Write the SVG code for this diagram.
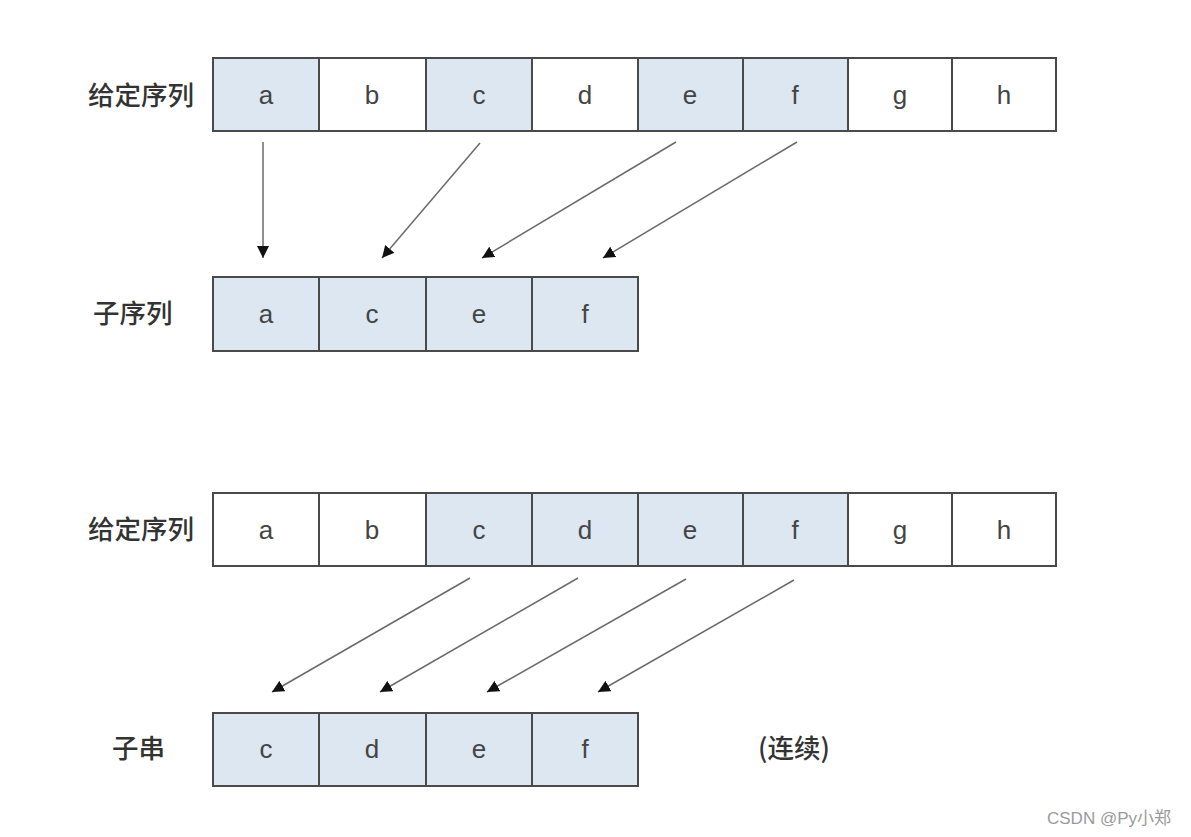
<svg xmlns="http://www.w3.org/2000/svg" width="1191" height="837" viewBox="0 0 1191 837">
<style>
.cell{stroke:#4a4a4a;stroke-width:2}
.hi{fill:#dce7f2}
.lo{fill:#ffffff}
.ch{font-family:"Liberation Sans",Arial,sans-serif;font-size:26px;fill:#444;text-anchor:middle}
.lb{font-family:"Noto Sans CJK SC","Noto Sans",sans-serif;font-size:26.5px;fill:#333;font-weight:500}
.ar{stroke:#6a6a6a;stroke-width:1.5;fill:none;marker-end:url(#ah)}
.wm{font-family:"Liberation Sans","Noto Sans CJK SC",sans-serif;font-size:17px;fill:#9a9a9a}
</style>
<defs>
<marker id="ah" viewBox="0 0 10 10" refX="10" refY="5" markerWidth="12" markerHeight="12" markerUnits="userSpaceOnUse" orient="auto">
<path d="M0,0 L10,5 L0,10 z" fill="#111"/>
</marker>
</defs>
<rect width="1191" height="837" fill="#ffffff"/>

<g id="row1">
<text class="lb" x="88" y="105">给定序列</text>
<rect class="cell hi" x="213" y="58" width="106" height="73"/>
<rect class="cell lo" x="319" y="58" width="107" height="73"/>
<rect class="cell hi" x="426" y="58" width="106" height="73"/>
<rect class="cell lo" x="532" y="58" width="106" height="73"/>
<rect class="cell hi" x="638" y="58" width="105" height="73"/>
<rect class="cell hi" x="743" y="58" width="105" height="73"/>
<rect class="cell lo" x="848" y="58" width="104" height="73"/>
<rect class="cell lo" x="952" y="58" width="104" height="73"/>
<text class="ch" x="266" y="104">a</text>
<text class="ch" x="372" y="104">b</text>
<text class="ch" x="479" y="104">c</text>
<text class="ch" x="585" y="104">d</text>
<text class="ch" x="690" y="104">e</text>
<text class="ch" x="795" y="104">f</text>
<text class="ch" x="900" y="104">g</text>
<text class="ch" x="1004" y="104">h</text>
</g>

<g id="row2">
<text class="lb" x="93" y="323">子序列</text>
<rect class="cell hi" x="213" y="277" width="106" height="74"/>
<rect class="cell hi" x="319" y="277" width="107" height="74"/>
<rect class="cell hi" x="426" y="277" width="106" height="74"/>
<rect class="cell hi" x="532" y="277" width="106" height="74"/>
<text class="ch" x="266" y="323">a</text>
<text class="ch" x="372" y="323">c</text>
<text class="ch" x="479" y="323">e</text>
<text class="ch" x="585" y="323">f</text>
</g>

<g id="row3">
<text class="lb" x="88" y="539">给定序列</text>
<rect class="cell lo" x="213" y="493" width="106" height="73"/>
<rect class="cell lo" x="319" y="493" width="107" height="73"/>
<rect class="cell hi" x="426" y="493" width="106" height="73"/>
<rect class="cell hi" x="532" y="493" width="106" height="73"/>
<rect class="cell hi" x="638" y="493" width="105" height="73"/>
<rect class="cell hi" x="743" y="493" width="105" height="73"/>
<rect class="cell lo" x="848" y="493" width="104" height="73"/>
<rect class="cell lo" x="952" y="493" width="104" height="73"/>
<text class="ch" x="266" y="539">a</text>
<text class="ch" x="372" y="539">b</text>
<text class="ch" x="479" y="539">c</text>
<text class="ch" x="585" y="539">d</text>
<text class="ch" x="690" y="539">e</text>
<text class="ch" x="795" y="539">f</text>
<text class="ch" x="900" y="539">g</text>
<text class="ch" x="1004" y="539">h</text>
</g>

<g id="row4">
<text class="lb" x="112" y="758">子串</text>
<rect class="cell hi" x="213" y="713" width="106" height="73"/>
<rect class="cell hi" x="319" y="713" width="107" height="73"/>
<rect class="cell hi" x="426" y="713" width="106" height="73"/>
<rect class="cell hi" x="532" y="713" width="106" height="73"/>
<text class="ch" x="266" y="758">c</text>
<text class="ch" x="372" y="758">d</text>
<text class="ch" x="479" y="758">e</text>
<text class="ch" x="585" y="758">f</text>
<text class="lb" x="758" y="758">(连续)</text>
</g>

<g id="connectors">
<line class="ar" x1="263" y1="142" x2="263" y2="258"/>
<line class="ar" x1="480" y1="143" x2="382" y2="258"/>
<line class="ar" x1="676" y1="142" x2="482" y2="258"/>
<line class="ar" x1="797" y1="142" x2="603" y2="258"/>
<line class="ar" x1="470" y1="578" x2="272" y2="692"/>
<line class="ar" x1="578" y1="578" x2="380" y2="692"/>
<line class="ar" x1="686" y1="579" x2="487" y2="692"/>
<line class="ar" x1="794" y1="580" x2="598" y2="692"/>
</g>

<text class="wm" x="1047" y="824">CSDN @Py小郑</text>
</svg>
